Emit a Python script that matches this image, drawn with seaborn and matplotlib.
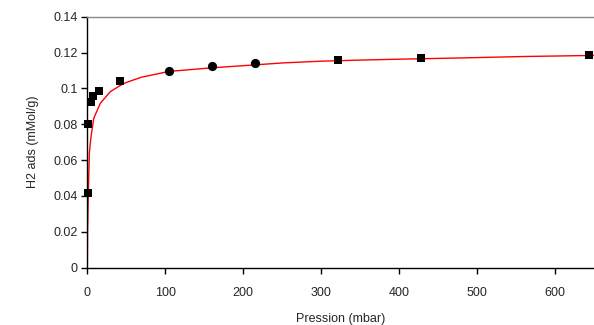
import numpy as np
import pandas as pd
import seaborn as sns
import matplotlib.pyplot as plt
from matplotlib.ticker import FuncFormatter

# fitted isotherm (red line)
curve_p = [0, 0.3, 1.3, 2.6, 4.7, 8.2, 16.7, 29.5, 46.6, 69, 105, 160, 214,
           250, 300, 350, 400, 490, 560, 650]
curve_q = [0, 0.02, 0.0417, 0.064, 0.073, 0.0833, 0.0917, 0.0982, 0.1028,
           0.1062, 0.1095, 0.1115, 0.1131, 0.1142, 0.1152, 0.1158, 0.1163,
           0.1171, 0.1178, 0.1184]

# measured points
sq_p = [0.3, 0.3, 5, 7, 15, 41.5, 321, 428, 643]
sq_q = [0.0418, 0.0803, 0.0927, 0.096, 0.0987, 0.1041, 0.1156, 0.117, 0.1184]
ci_p = [105, 160, 214.6]
ci_q = [0.1095, 0.1123, 0.1142]

x_ticks = [0, 100, 200, 300, 400, 500, 600]
y_ticks = [0, 0.02, 0.04, 0.06, 0.08, 0.1, 0.12, 0.14]

sns.set_style("white")
plt.rcParams["font.family"] = ["Liberation Sans", "DejaVu Sans"]

fig = plt.figure(figsize=(5.94, 3.25), dpi=100)
ax = fig.add_axes([0.147, 0.1763, 0.853, 0.7723])

curve = pd.DataFrame({"p": curve_p, "q": curve_q})
sns.lineplot(data=curve, x="p", y="q", sort=False, color="red", lw=1.0, ax=ax)
sns.scatterplot(x=sq_p, y=sq_q, marker="s", s=40, color="black",
                edgecolor="black", linewidth=0, ax=ax, zorder=3, clip_on=False)
sns.scatterplot(x=ci_p, y=ci_q, marker="o", s=44, color="black",
                edgecolor="black", linewidth=0, ax=ax, zorder=3)

ax.set_xlim(0, 650)
ax.set_ylim(0, 0.14)
ax.set_xticks(x_ticks)
ax.set_yticks(y_ticks)
ax.yaxis.set_major_formatter(FuncFormatter(lambda v, pos: "%g" % v))

ax.spines["left"].set_color("black")
ax.spines["bottom"].set_color("black")
ax.spines["top"].set_color("#888888")
ax.spines["right"].set_visible(False)
for s in ["left", "bottom", "top"]:
    ax.spines[s].set_linewidth(1.0)

ax.tick_params(axis="both", direction="out", length=4, width=1.0,
               color="black", labelsize=9, pad=3, left=True, bottom=True)
ax.tick_params(axis="x", pad=10)

ax.set_xlabel("Pression (mbar)", fontsize=9, labelpad=10)
ax.set_ylabel("H2 ads (mMol/g)", fontsize=9, labelpad=10)

fig.savefig("out.png", dpi=100)
plt.close()
